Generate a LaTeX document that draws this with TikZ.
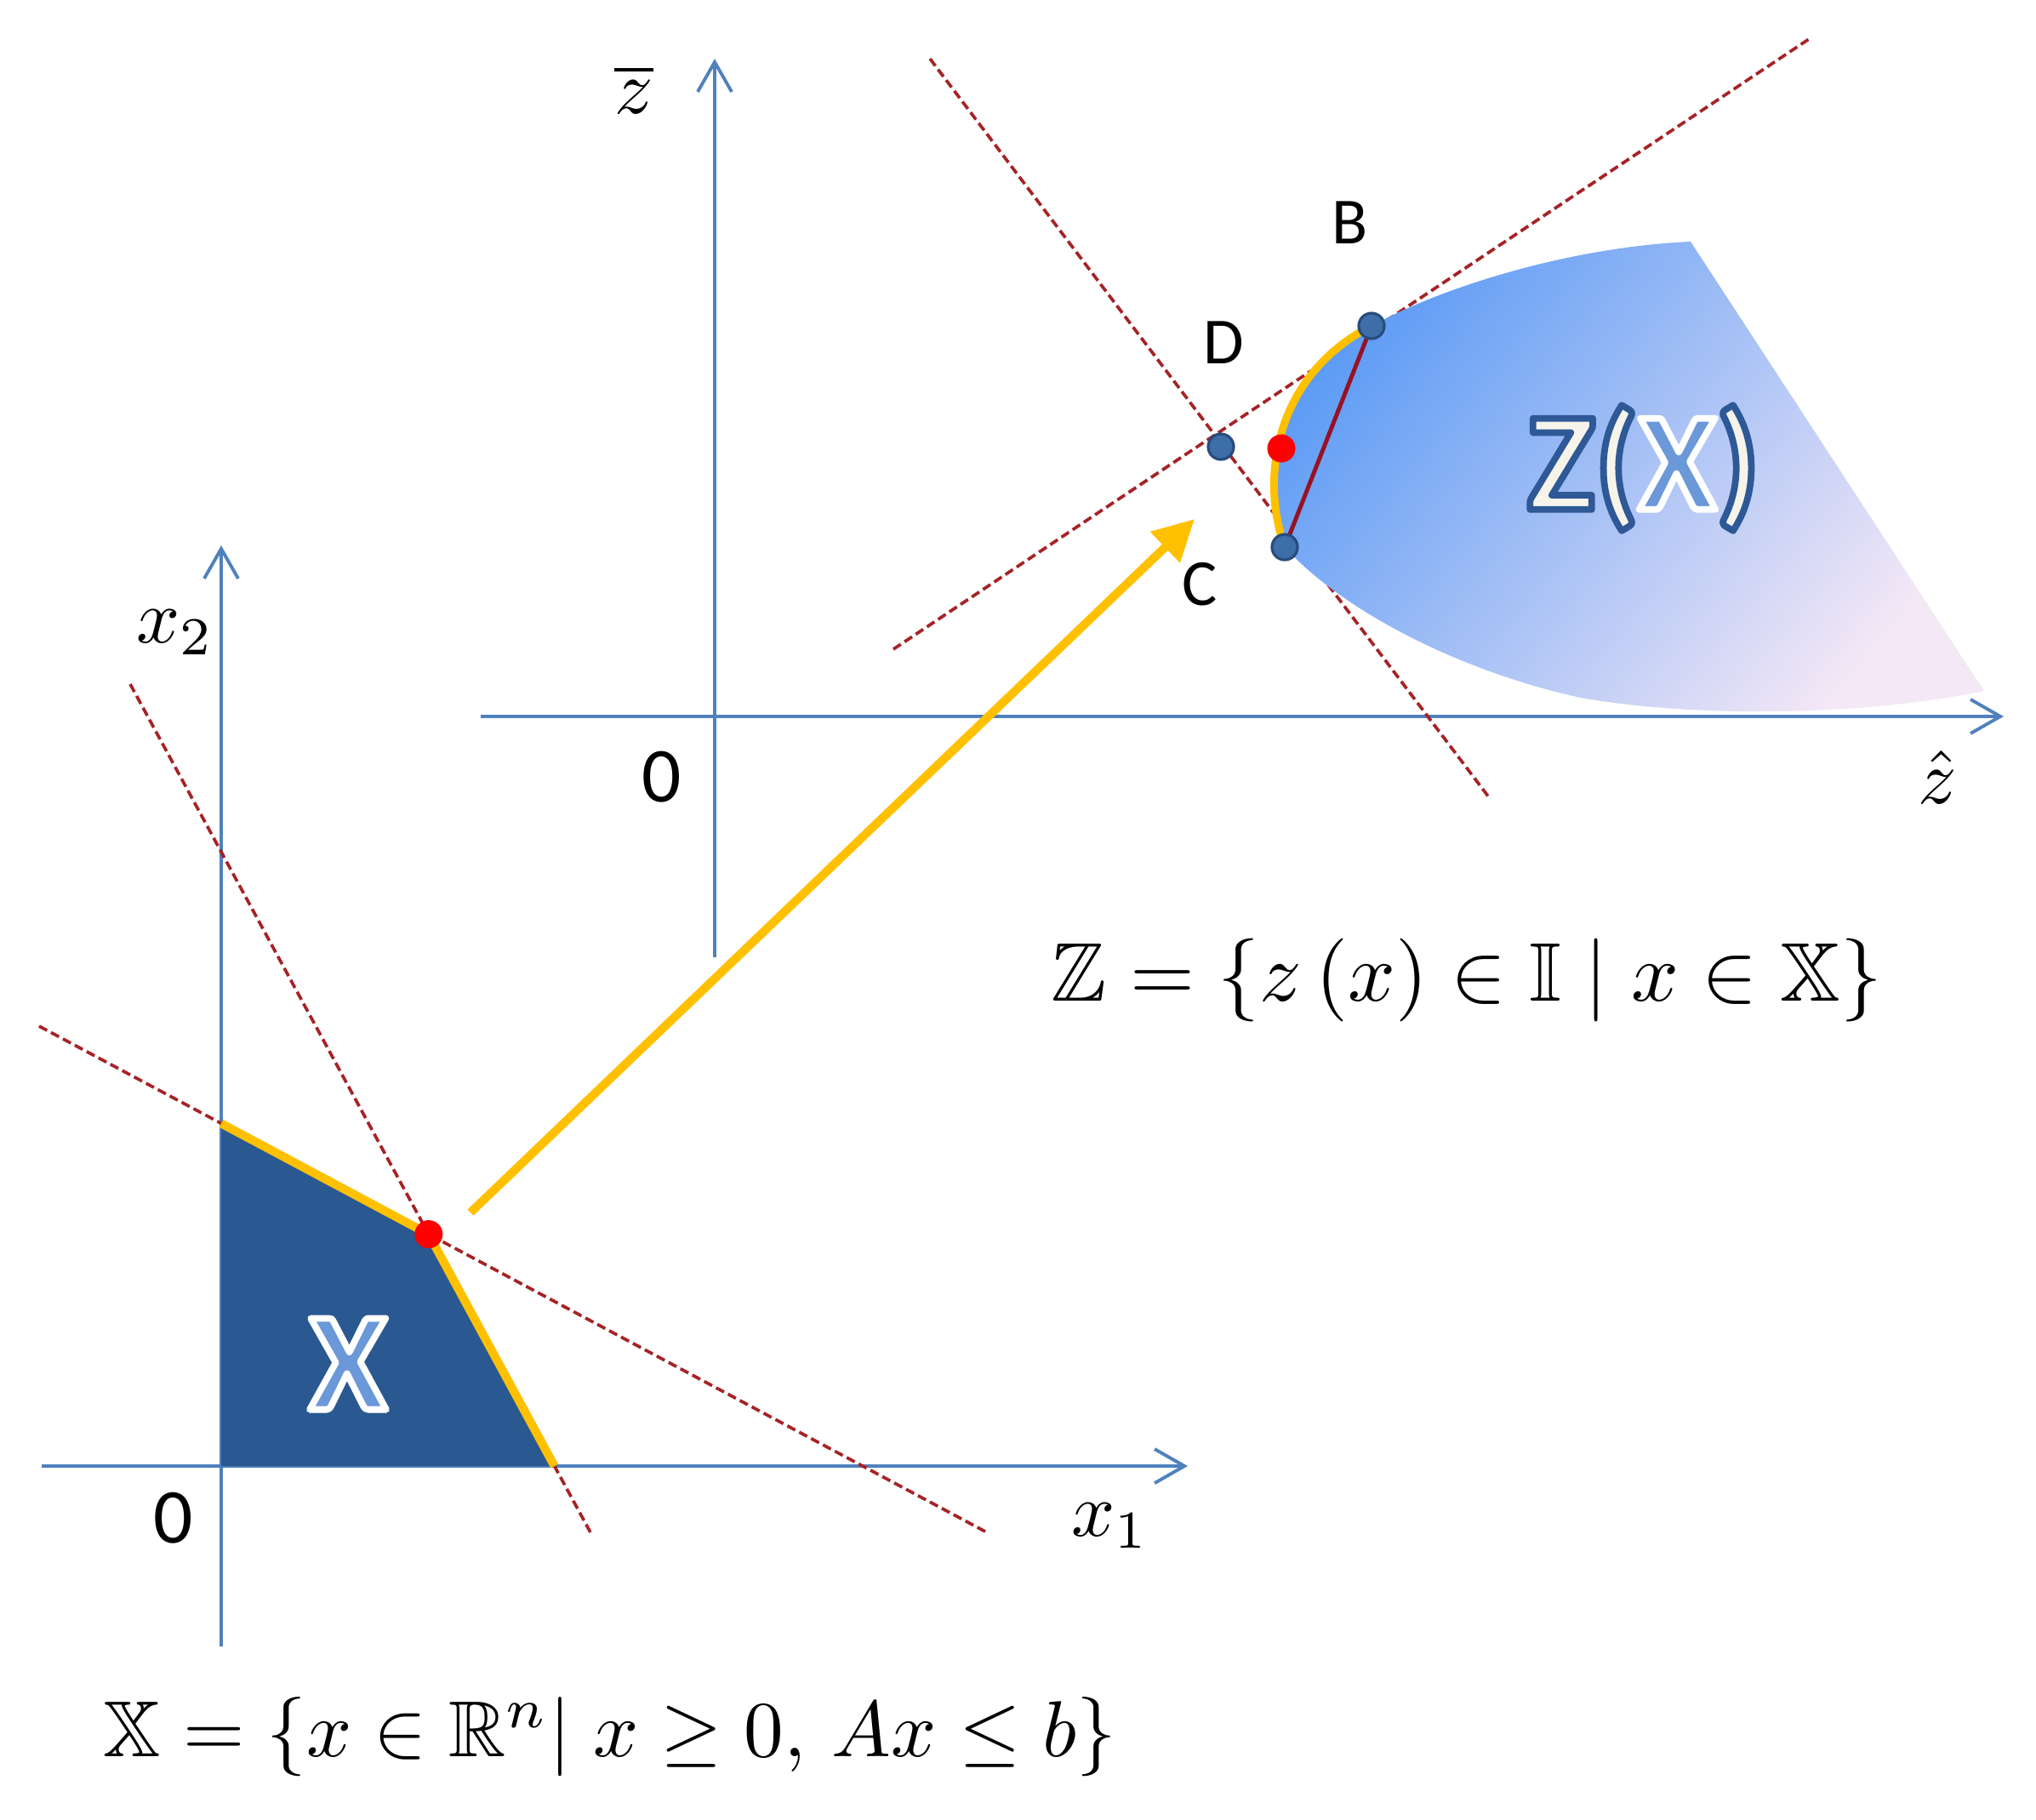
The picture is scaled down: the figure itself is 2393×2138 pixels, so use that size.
\documentclass[tikz,border=0pt]{standalone}
\usepackage{amssymb}
\usepackage{graphicx}
\usepackage{fontspec}
\usepackage{tikz}
\usetikzlibrary{arrows.meta,calc}
\newfontfamily\calibri{Carlito}
\definecolor{axisblue}{RGB}{79,129,189}
\definecolor{boundred}{RGB}{165,35,38}
\definecolor{chordred}{RGB}{150,18,36}
\definecolor{goldline}{RGB}{255,192,0}
\definecolor{xfill}{RGB}{42,89,145}
\definecolor{dotblue}{RGB}{62,110,168}
\definecolor{dotedge}{RGB}{40,76,125}
\definecolor{zblue}{RGB}{92,155,245}
\definecolor{zmid}{RGB}{124,182,248}
\definecolor{zlav}{RGB}{244,232,246}
\definecolor{zcream}{RGB}{246,244,234}
\definecolor{xletter}{RGB}{106,152,216}
\newcommand{\outlined}[3]{\special{pdf:literal direct #1 RG #2 w 1 j 2 Tr}#3\special{pdf:literal direct 0 Tr}}

\begin{document}
\begin{tikzpicture}[x=0.01cm, y=-0.01cm,
    axis/.style={draw=axisblue, line width=1.1pt, -{Straight Barb[length=3.5mm, width=4mm]}},
    bound/.style={draw=boundred, line width=1.05pt, dash pattern=on 3pt off 1.5pt},
    edge/.style={draw=goldline, line width=1mm, line join=round},
    flow/.style={draw=goldline, line width=1mm, -{Triangle[length=4.8mm, width=4.8mm]}},
    chord/.style={draw=chordred, line width=1.4pt},
    vertex/.style={circle, fill=dotblue, draw=dotedge, line width=0.9pt, inner sep=0pt, minimum size=3mm},
    optimum/.style={circle, fill=red, inner sep=0pt, minimum size=3.3mm},
    letter/.style={font=\calibri\fontsize{22}{26}\selectfont},
    origin/.style={font=\calibri\fontsize{26}{30}\selectfont},
    setlabel/.style={font=\calibri\bfseries\fontsize{47}{56}\selectfont}
]
    \useasboundingbox (0,0) rectangle (2393,2138);

    \coordinate (xo) at (260,1723);
    \coordinate (x1tail) at (49,1723);
    \coordinate (x1tip) at (1396,1723);
    \coordinate (x2tail) at (260,1935);
    \coordinate (x2tip) at (260,641);
    \coordinate (zo) at (840,842);
    \coordinate (zhtail) at (565,842);
    \coordinate (zhtip) at (2355,842);
    \coordinate (zbtail) at (840,1125);
    \coordinate (zbtip) at (840,69);

    \coordinate (l1a) at (46,1206);
    \coordinate (l1b) at (1160,1801);
    \coordinate (l2a) at (153,804);
    \coordinate (l2b) at (694,1801);
    \coordinate (l3a) at (1050,763);
    \coordinate (l3b) at (2126,46);
    \coordinate (l4a) at (1093,69);
    \coordinate (l4b) at (1750,937);

    \coordinate (xtop) at (intersection of l1a--l1b and xo--x2tip);
    \coordinate (xright) at (intersection of l2a--l2b and xo--x1tip);
    \coordinate (xstar) at (intersection of l1a--l1b and l2a--l2b);

    \coordinate (ptB) at (1612,383);
    \coordinate (ptC) at (1510,643);
    \coordinate (ptD) at (1435,525);
    \coordinate (zcorner) at (1987,284);
    \coordinate (zfar) at (2332,812);
    \coordinate (arrtail) at (553,1425);
    \coordinate (arrtip) at (1404,610);

    \draw[axis] (x1tail) -- (x1tip);
    \draw[axis] (x2tail) -- (x2tip);
    \draw[axis] (zhtail) -- (zhtip);
    \draw[axis] (zbtail) -- (zbtip);

    \foreach \a/\b in {l1a/l1b, l2a/l2b, l3a/l3b, l4a/l4b} {
        \draw[bound] (\a) -- (\b);
    }

    \fill[xfill] (xo) -- (xtop) -- (xstar) -- (xright) -- cycle;
    \draw[edge] (xtop) -- (xstar) -- (xright);

    \shade[top color=zblue, middle color=zmid, bottom color=zlav, shading angle=50]
        (ptC) .. controls (1480,560) and (1500,440) .. (ptB)
        .. controls (1700,335) and (1850,290) .. (zcorner)
        -- (zfar)
        .. controls (2200,840) and (2000,845) .. (1858,820)
        .. controls (1720,790) and (1580,720) .. (ptC) -- cycle;
    \draw[goldline, line width=0.9mm, line cap=round] (ptC) .. controls (1480,560) and (1500,440) .. (ptB);
    \draw[chord] (ptB) -- (ptC);

    \node[vertex] (B) at (ptB) {};
    \node[vertex] (C) at (ptC) {};
    \node[vertex] (D) at (ptD) {};
    \node[optimum] (zopt) at (1506,527) {};
    \node[optimum] (xopt) at (xstar) {};

    \node[letter] (labB) at (1587,262) {B};
    \node[letter] (labC) at (1410,687) {C};
    \node[letter] (labD) at (1438,403) {D};

    \node[origin] (o1) at (204,1784) {0};
    \node[origin] (o2) at (778,913) {0};
    \node (lx1) at (1305,1793) {\scalebox{2.55}{$x_1$}};
    \node (lx2) at (206,743) {\scalebox{2.55}{$x_2$}};
    \node (lzh) at (2277,913) {\scalebox{2.55}{$\hat{z}$}};
    \node (lzb) at (745,105) {\scalebox{2.55}{$\overline{z}$}};

    \node[setlabel, text=xletter] (setX) at (409,1603) {\outlined{1 1 1}{2.2}{X}};
    \node[setlabel, text=zcream] (setZ) at (1932,550)
        {\outlined{0.18 0.35 0.59}{2.2}{Z(}\textcolor{xletter}{\outlined{1 1 1}{2.2}{X}}\outlined{0.18 0.35 0.59}{2.2}{)}};

    \draw[flow] (arrtail) -- (arrtip);

    \node (zdef) at (1724,1152)
        {\scalebox{2.78}{$\mathbb{Z}=\left\{z\left(x\right)\in\mathbb{I}\;\middle|\;x\in\mathbb{X}\right\}$}};
    \node (xdef) at (717,2041)
        {\scalebox{2.65}{$\mathbb{X}=\left\{x\in\mathbb{R}^n\middle|\;x\geq 0,\,Ax\leq b\right\}$}};
\end{tikzpicture}
\end{document}
